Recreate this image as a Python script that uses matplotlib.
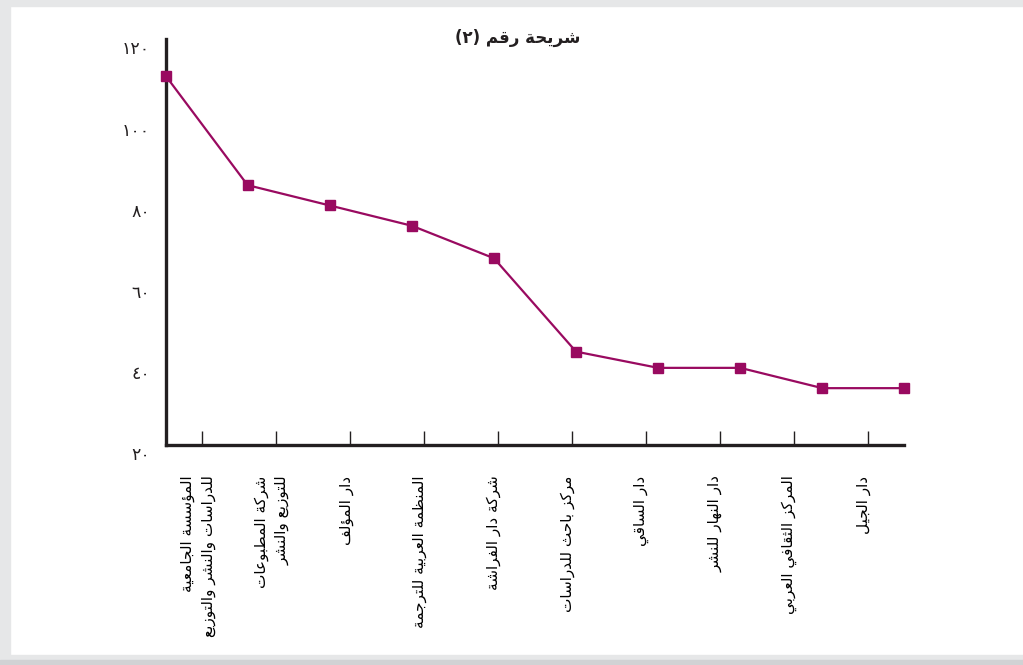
import matplotlib
matplotlib.use("Agg")
import matplotlib.pyplot as plt
from matplotlib.patches import Rectangle
from matplotlib.transforms import ScaledTranslation

# ---------------- data ----------------
title_text = "شريحة رقم (٢)"
categories = [
    "المؤسسة الجامعية\nللدراسات والنشر والتوزيع",
    "شركة المطبوعات\nللتوزيع والنشر",
    "دار المؤلف",
    "المنظمة العربية للترجمة",
    "شركة دار الفراشة",
    "مركز باحث للدراسات",
    "دار الساقي",
    "دار النهار للنشر",
    "المركز الثقافي العربي",
    "دار الجيل",
]
values = [111, 84, 79, 74, 66, 43, 39, 39, 34, 34]
y_ticks = [20, 40, 60, 80, 100, 120]
y_tick_labels = ["٢٠", "٤٠", "٦٠", "٨٠", "١٠٠", "١٢٠"]

# ---------------- minimal Arabic shaping (visual order) ----------------
FORMS = {
    '\u0621': ('\uFE80',),
    '\u0622': ('\uFE81', '\uFE82'),
    '\u0623': ('\uFE83', '\uFE84'),
    '\u0624': ('\uFE85', '\uFE86'),
    '\u0625': ('\uFE87', '\uFE88'),
    '\u0626': ('\uFE89', '\uFE8A', '\uFE8B', '\uFE8C'),
    '\u0627': ('\uFE8D', '\uFE8E'),
    '\u0628': ('\uFE8F', '\uFE90', '\uFE91', '\uFE92'),
    '\u0629': ('\uFE93', '\uFE94'),
    '\u062A': ('\uFE95', '\uFE96', '\uFE97', '\uFE98'),
    '\u062B': ('\uFE99', '\uFE9A', '\uFE9B', '\uFE9C'),
    '\u062C': ('\uFE9D', '\uFE9E', '\uFE9F', '\uFEA0'),
    '\u062D': ('\uFEA1', '\uFEA2', '\uFEA3', '\uFEA4'),
    '\u062E': ('\uFEA5', '\uFEA6', '\uFEA7', '\uFEA8'),
    '\u062F': ('\uFEA9', '\uFEAA'),
    '\u0630': ('\uFEAB', '\uFEAC'),
    '\u0631': ('\uFEAD', '\uFEAE'),
    '\u0632': ('\uFEAF', '\uFEB0'),
    '\u0633': ('\uFEB1', '\uFEB2', '\uFEB3', '\uFEB4'),
    '\u0634': ('\uFEB5', '\uFEB6', '\uFEB7', '\uFEB8'),
    '\u0635': ('\uFEB9', '\uFEBA', '\uFEBB', '\uFEBC'),
    '\u0636': ('\uFEBD', '\uFEBE', '\uFEBF', '\uFEC0'),
    '\u0637': ('\uFEC1', '\uFEC2', '\uFEC3', '\uFEC4'),
    '\u0638': ('\uFEC5', '\uFEC6', '\uFEC7', '\uFEC8'),
    '\u0639': ('\uFEC9', '\uFECA', '\uFECB', '\uFECC'),
    '\u063A': ('\uFECD', '\uFECE', '\uFECF', '\uFED0'),
    '\u0641': ('\uFED1', '\uFED2', '\uFED3', '\uFED4'),
    '\u0642': ('\uFED5', '\uFED6', '\uFED7', '\uFED8'),
    '\u0643': ('\uFED9', '\uFEDA', '\uFEDB', '\uFEDC'),
    '\u0644': ('\uFEDD', '\uFEDE', '\uFEDF', '\uFEE0'),
    '\u0645': ('\uFEE1', '\uFEE2', '\uFEE3', '\uFEE4'),
    '\u0646': ('\uFEE5', '\uFEE6', '\uFEE7', '\uFEE8'),
    '\u0647': ('\uFEE9', '\uFEEA', '\uFEEB', '\uFEEC'),
    '\u0648': ('\uFEED', '\uFEEE'),
    '\u0649': ('\uFEEF', '\uFEF0'),
    '\u064A': ('\uFEF1', '\uFEF2', '\uFEF3', '\uFEF4'),
}
LAM_ALEF = {
    '\u0622': ('\uFEF5', '\uFEF6'),
    '\u0623': ('\uFEF7', '\uFEF8'),
    '\u0625': ('\uFEF9', '\uFEFA'),
    '\u0627': ('\uFEFB', '\uFEFC'),
}
MIRROR = {'(': ')', ')': '('}


def shape_line(text):
    units = []
    i = 0
    while i < len(text):
        c = text[i]
        if c == '\u0644' and i + 1 < len(text) and text[i + 1] in LAM_ALEF:
            units.append(LAM_ALEF[text[i + 1]])
            i += 2
        elif c in FORMS:
            units.append(FORMS[c])
            i += 1
        else:
            units.append(c)
            i += 1
    out = []
    for k, u in enumerate(units):
        if isinstance(u, str):
            out.append(MIRROR.get(u, u))
            continue
        prev = units[k - 1] if k > 0 else None
        nxt = units[k + 1] if k + 1 < len(units) else None
        jp = isinstance(prev, tuple) and len(prev) == 4 and len(u) > 1
        jn = len(u) == 4 and isinstance(nxt, tuple) and len(nxt) >= 2
        if jp and jn:
            f = u[3]
        elif jp:
            f = u[1]
        elif jn:
            f = u[2]
        else:
            f = u[0]
        out.append(f)
    return ''.join(reversed(out))


def shape(text):
    return '\n'.join(shape_line(l) for l in text.split('\n'))


# ---------------- figure ----------------
W, H = 1023, 665
plt.rcParams['font.family'] = ['DejaVu Sans']
fig = plt.figure(figsize=(W / 100, H / 100), dpi=100)
fig.patch.set_facecolor('white')

# card border bands
fig.patches.append(Rectangle((0, 1 - 6 / H), 1, 6 / H, transform=fig.transFigure,
                             color='#e6e7e8', zorder=0))
fig.patches.append(Rectangle((0, 0), 10 / W, 1, transform=fig.transFigure,
                             color='#e6e7e8', zorder=0))
fig.patches.append(Rectangle((0, 5 / H), 1, 5 / H, transform=fig.transFigure,
                             color='#e6e7e8', zorder=0))
fig.patches.append(Rectangle((0, 0), 1, 5 / H, transform=fig.transFigure,
                             color='#d1d2d4', zorder=0))

left, right = 165.5 / W, 904.5 / W
bottom, top = (H - 445) / H, (H - 39) / H
ax = fig.add_axes([left, bottom, right - left, top - bottom])
ax.set_facecolor('none')

n = len(values)
x = list(range(n))
ax.plot(x, values, color='#990a60', lw=1.6, marker='s', markersize=7,
        markerfacecolor='#990a60', markeredgecolor='#990a60', clip_on=False, zorder=5)

ax.set_xlim(0, n - 1)
ax.set_ylim(20, 120)

# category ticks at bin centres
step = (n - 1) / n
tick_pos = [(i + 0.5) * step for i in range(n)]
ax.set_xticks(tick_pos)
ax.set_xticklabels([shape(c) for c in categories], rotation=90, ha='center', va='top',
                   multialignment='right', fontsize=11, linespacing=1.45)
ax.tick_params(axis='x', direction='in', length=10, width=1, color='#231f20', pad=22)
xoff = ScaledTranslation(-3 / 72, 0, fig.dpi_scale_trans)
for lab in ax.get_xticklabels():
    lab.set_transform(lab.get_transform() + xoff)

ax.set_yticks(y_ticks)
ax.set_yticklabels(y_tick_labels, fontsize=12.5, color='#231f20')
ax.tick_params(axis='y', length=0, pad=11)
off = ScaledTranslation(0, -6 / 72, fig.dpi_scale_trans)
for lab in ax.get_yticklabels():
    lab.set_transform(lab.get_transform() + off)

for s in ['top', 'right']:
    ax.spines[s].set_visible(False)
for s in ['left', 'bottom']:
    ax.spines[s].set_linewidth(2.4)
    ax.spines[s].set_color('#231f20')

fig.text(518 / W, 1 - 38 / H, shape(title_text), ha='center', va='center',
         fontsize=12, fontweight='bold', color='#231f20')

fig.savefig('out.png', dpi=100, facecolor=fig.get_facecolor())
